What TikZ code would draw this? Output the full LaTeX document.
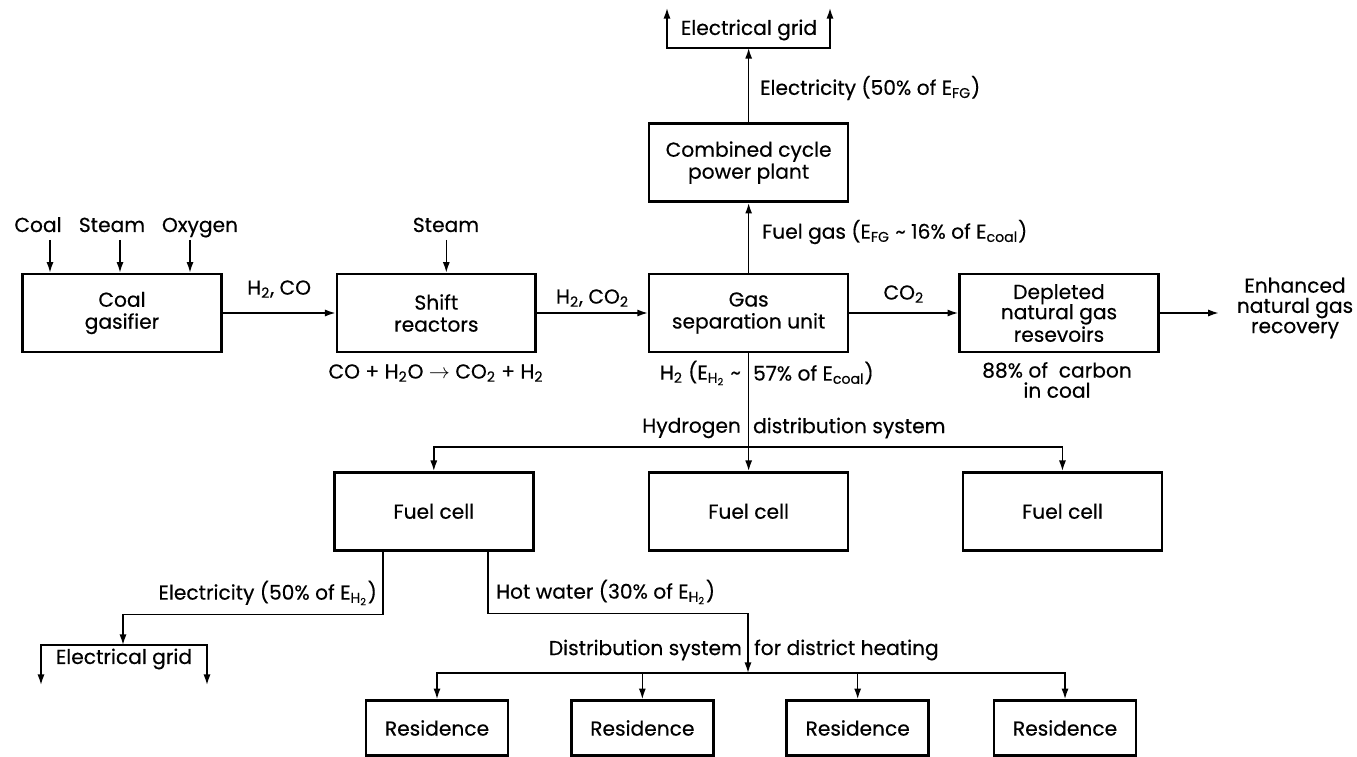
\documentclass[tikz,border=0pt]{standalone}
\usepackage{fontspec}
\setmainfont{Poppins}[FakeBold=0.4]
\usepackage{tikz}
\usetikzlibrary{arrows.meta, positioning, calc}

\begin{document}
\begin{tikzpicture}[
    x=0.02cm, y=-0.02cm,
    node distance=1.5cm,
    unit/.style={rectangle, draw, line width=1.5pt, minimum width=3.98cm,
                 minimum height=1.56cm, font=\fontsize{11.5}{12.5}\selectfont,
                 align=center, inner sep=2pt},
    house/.style={unit, minimum width=2.84cm, minimum height=1.1cm},
    lbl/.style={font=\fontsize{11.5}{11.5}\selectfont, inner sep=1pt, align=center},
    flow/.style={-{Latex[length=6pt, width=4pt]}, line width=0.85pt},
    flows/.style={{Latex[length=6pt, width=4pt]}-{Latex[length=6pt, width=4pt]}, line width=0.85pt},
]
\useasboundingbox (0,0) rectangle (1357,757);

% main process line
\node[unit] (gasifier) at (122,313) {Coal\\gasifier};
\node[unit, right=2.255cm of gasifier] (shift) {Shift\\reactors};
\node[unit, right=2.215cm of shift] (gsu) {Gas\\separation unit};
\node[unit, right=2.175cm of gsu, font=\fontsize{11.5}{11.5}\selectfont] (depleted) {Depleted\\natural gas\\resevoirs};
\node[unit, above=1.395cm of gsu] (ccpp) {Combined cycle\\power plant};
\node[unit, below=2.355cm of gsu] (fcM) {Fuel cell};
\node[unit, left=2.265cm of fcM] (fcL) {Fuel cell};
\node[unit, right=2.245cm of fcM] (fcR) {Fuel cell};

% residences
\node[house] (house1) at (437,728) {Residence};
\node[house, right=1.215cm of house1] (house2) {Residence};
\node[house, right=1.415cm of house2] (house3) {Residence};
\node[house, right=1.255cm of house3] (house4) {Residence};

% inputs
\node[lbl, anchor=base] (coalT) at (38,232) {Coal};
\node[lbl, anchor=base] (steamT) at (112,232) {Steam};
\node[lbl, anchor=base] (oxyT) at (200,232) {Oxygen};
\node[lbl, anchor=base] (steamS) at (446,232) {Steam};
\coordinate (inrow) at (0,240);
\coordinate (cin) at ($(gasifier.north)+(-72,0)$);
\coordinate (sin) at ($(gasifier.north)+(-2,0)$);
\coordinate (oin) at ($(gasifier.north)+(68,0)$);
\coordinate (ssin) at ($(shift.north)+(10,0)$);
\draw[flow] (cin |- inrow) -- (cin);
\draw[flow] (sin |- inrow) -- (sin);
\draw[flow] (oin |- inrow) -- (oin);
\draw[flow] (ssin |- inrow) -- (ssin);

% gas streams
\draw[flow] (gasifier) -- node[lbl, yshift=13.6pt] {H\textsubscript{2}, CO} (shift);
\draw[flow] (shift) -- node[lbl, yshift=8.5pt] {H\textsubscript{2}, CO\textsubscript{2}} (gsu);
\draw[flow] (gsu) -- node[lbl, yshift=10.8pt] {CO\textsubscript{2}} (depleted);
\node[lbl] (rxn) at (436,373) {CO + H\textsubscript{2}O $\rightarrow$ CO\textsubscript{2} + H\textsubscript{2}};
\node[lbl] (carbon) at (1057,380) {88\% of\ \ carbon\\in coal};
\node[lbl] (ngr) at (1295,308) {Enhanced\\natural gas\\recovery};
\draw[flow, shorten >=0.32cm] (depleted) -- (depleted -| ngr.west);

% power plant and grid
\draw[flow] (gsu) -- (ccpp);
\node[lbl, anchor=west] (fuelgas) at (760,232) {Fuel gas (E\textsubscript{FG} \textasciitilde\ 16\% of E\textsubscript{coal})};
\node[lbl, anchor=west] (elecT) at (758,88) {Electricity (50\% of E\textsubscript{FG})};
\node[lbl] (gridT) at (749,30) {Electrical grid};
\coordinate (tj) at (747,48);
\coordinate (tl) at (667,48);
\coordinate (tr) at (830,48);
\coordinate (tlup) at (667,8);
\coordinate (trup) at (830,8);
\draw[flow] (ccpp.north) -- (ccpp.north |- tj);
\draw[flows] (tlup) -- (tl) -- (tr) -- (trup);

% hydrogen distribution
\node[lbl, anchor=east] (h2a) at (743,373) {H\textsubscript{2} (E\textsubscript{H\textsubscript{2}} \textasciitilde};
\node[lbl, anchor=west] (h2b) at (751,373) {57\% of E\textsubscript{coal})};
\node[lbl, anchor=east] (hdsA) at (743,428) {Hydrogen};
\node[lbl, anchor=west] (hdsB) at (751,428) {distribution system};
\coordinate (hj) at (747,447);
\draw[flow] (gsu) -- (fcM);
\draw[flows] (fcL.north) -- (fcL.north |- hj) -- (fcR.north |- hj) -- (fcR.north);

% fuel cell outputs
\coordinate (eOut) at ($(fcL.south)+(-51,0)$);
\coordinate (hOut) at ($(fcL.south)+(54,0)$);
\node[lbl, anchor=east] (elecB) at (379,593) {Electricity (50\% of E\textsubscript{H\textsubscript{2}})};
\node[lbl, anchor=west] (hotw) at (494,592) {Hot water (30\% of E\textsubscript{H\textsubscript{2}})};
\node[lbl] (gridB) at (124,659) {Electrical grid};
\coordinate (bj) at (123,645);
\coordinate (bl) at (41,645);
\coordinate (br) at (207,645);
\coordinate (bldn) at (41,685);
\coordinate (brdn) at (207,685);
\draw[flow] (eOut) -- ++(0,63) -| (bj);
\draw[flows] (bldn) -- (bl) -- (br) -- (brdn);

% district heating
\node[lbl, anchor=east] (dsA) at (744,650) {Distribution system};
\node[lbl, anchor=west] (dsB) at (752,650) {for district heating};
\coordinate (dj) at (748,673);
\draw[flow] (hOut) -- ++(0,62) -| (dj);
\draw[flows] (house1.north) -- (house1.north |- dj) -- (house4.north |- dj) -- (house4.north);
\draw[flow] (house2.north |- dj) -- (house2.north);
\draw[flow] (house3.north |- dj) -- (house3.north);

\end{tikzpicture}
\end{document}
